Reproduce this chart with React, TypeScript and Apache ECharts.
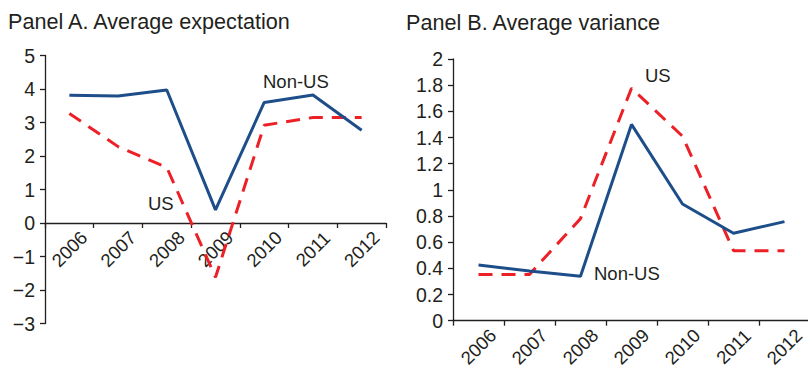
import { useEffect, useRef } from 'react';
import * as echarts from 'echarts';

// Survey years shared by both panels
const years = ['2006', '2007', '2008', '2009', '2010', '2011', '2012'];

// Panel A: average expectation
const expectationNonUS = [3.81, 3.79, 3.97, 0.39, 3.6, 3.82, 2.77];
const expectationUS = [3.27, 2.28, 1.66, -1.62, 2.92, 3.15, 3.15];

// Panel B: average variance
const varianceNonUS = [0.426, 0.38, 0.34, 1.5, 0.892, 0.668, 0.757];
const varianceUS = [0.354, 0.354, 0.78, 1.777, 1.41, 0.535, 0.535];

// Axis ranges
const expectationMin = -3;
const expectationMax = 5;
const expectationStep = 1;
const varianceMin = 0;
const varianceMax = 2;
const varianceStep = 0.2;

const FONT = '"Liberation Sans", Arial, Helvetica, sans-serif';
const INK = '#231f20';
const NAVY = '#1d4e89';
const RED = '#ec2027';

// Panel A plot box; its category axis sits on the zero line
const gridA = { left: 45, top: 55.5, width: 341, height: 268 };
const zeroOffsetA = -(gridA.height * (0 - expectationMin)) / (expectationMax - expectationMin);

export default function App() {
  const ref = useRef<HTMLDivElement>(null);

  useEffect(() => {
    if (!ref.current) return;
    const chart = echarts.init(ref.current, null, { renderer: 'svg' });

    const axisLine = { lineStyle: { color: INK, width: 1.3 } };

    const xAxis = (gridIndex: number, offset: number) => ({
      type: 'category',
      gridIndex,
      data: years,
      boundaryGap: true,
      offset,
      axisLine: { ...axisLine, onZero: false },
      axisTick: { show: true, length: 5, interval: 0, lineStyle: { color: INK, width: 1.3 } },
      axisLabel: {
        color: INK,
        fontFamily: FONT,
        fontSize: 18.5,
        rotate: 45,
        interval: 0,
        margin: 26,
        align: 'center',
        verticalAlign: 'middle',
      },
      splitLine: { show: false },
    });

    const yAxis = (gridIndex: number, min: number, max: number, interval: number) => ({
      type: 'value',
      gridIndex,
      min,
      max,
      interval,
      axisLine: { show: true, ...axisLine },
      axisTick: { show: true, length: 5, lineStyle: { color: INK, width: 1.3 } },
      axisLabel: {
        color: INK,
        fontFamily: FONT,
        fontSize: 19.5,
        margin: 10,
        formatter: (v: number) => {
          const r = parseFloat(v.toFixed(1));
          return r < 0 ? '\u2212' + Math.abs(r) : String(r);
        },
      },
      splitLine: { show: false },
    });

    const line = (
      name: string,
      data: number[],
      axisIndex: number,
      color: string,
      dashed: boolean
    ) => ({
      name,
      type: 'line',
      xAxisIndex: axisIndex,
      yAxisIndex: axisIndex,
      data,
      symbol: 'none',
      silent: true,
      lineStyle: { color, width: 3, type: dashed ? [14, 9] : 'solid', cap: 'butt' },
    });

    const label = (text: string, x: number, y: number, size: number) => ({
      type: 'text',
      x,
      y,
      silent: true,
      style: {
        text,
        fill: INK,
        fontFamily: FONT,
        fontSize: size,
        verticalAlign: 'middle',
      },
    });

    chart.setOption({
      animation: false,
      backgroundColor: '#ffffff',
      grid: [
        { ...gridA, outerBoundsMode: 'none' },
        { left: 453, top: 59, width: 357, height: 261.7, outerBoundsMode: 'none' },
      ],
      xAxis: [xAxis(0, zeroOffsetA), xAxis(1, 0)],
      yAxis: [
        yAxis(0, expectationMin, expectationMax, expectationStep),
        yAxis(1, varianceMin, varianceMax, varianceStep),
      ],
      series: [
        line('US', expectationUS, 0, RED, true),
        line('Non-US', expectationNonUS, 0, NAVY, false),
        line('US', varianceUS, 1, RED, true),
        line('Non-US', varianceNonUS, 1, NAVY, false),
      ],
      graphic: [
        label('Panel A. Average expectation', 8, 21.5, 21.6),
        label('Panel B. Average variance', 406, 22, 21.6),
        label('Non-US', 263, 81.5, 18.5),
        label('US', 148, 203, 18.5),
        label('US', 645, 75.5, 18.5),
        label('Non-US', 594, 273.5, 18.5),
      ],
    });

    return () => chart.dispose();
  }, []);

  return (
    <div
      ref={ref}
      style={{ position: 'absolute', left: 0, top: 0, width: 808, height: 366, background: '#fff' }}
    />
  );
}
